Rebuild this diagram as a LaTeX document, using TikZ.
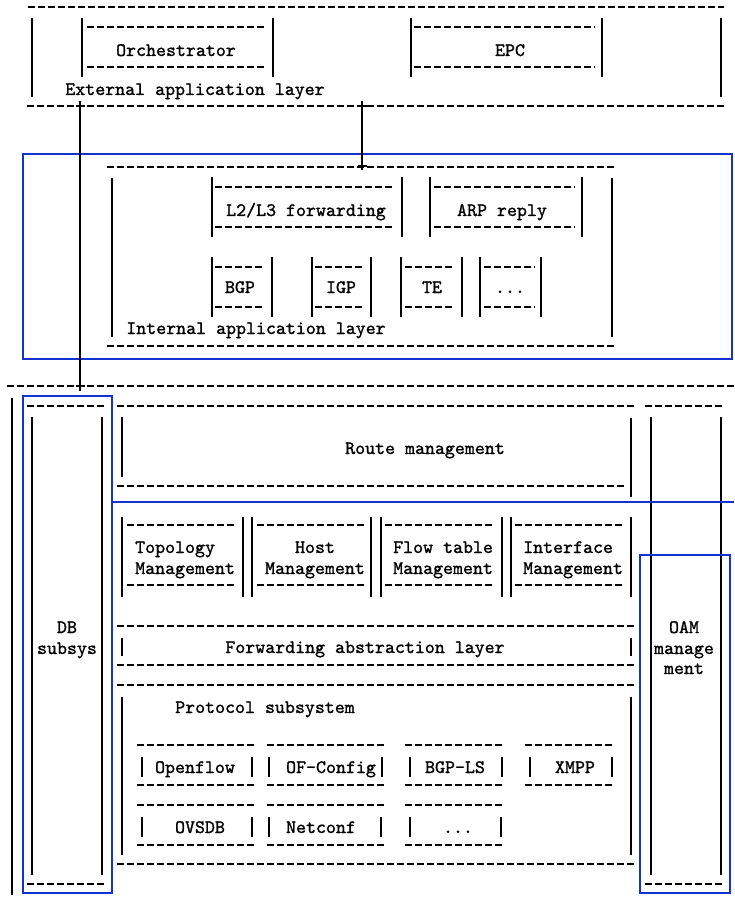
\documentclass[tikz,border=0pt]{standalone}
\usepackage{fontspec}
\newfontfamily\asc{lmmono10-regular}[Extension=.otf, FakeBold=1.2]
\definecolor{frameblue}{RGB}{20,50,210}
\begin{document}
\begin{tikzpicture}[x=1pt,y=-1pt,
  dl/.style={line width=1.3pt, dash pattern=on 7pt off 3pt},
  vl/.style={line width=1.6pt},
  bl/.style={draw=frameblue, line width=2.4pt},
  tx/.style={font=\asc\fontsize{19}{20.5}\selectfont, anchor=base, inner sep=0pt},
  txl/.style={tx, anchor=base west},
]
\useasboundingbox (0,0) rectangle (734,901);

% ---------------- external application layer ----------------
\draw[dl] (28,7) -- (724,7);
\draw[vl] (32,18) -- (32,97);
\draw[vl] (721,18) -- (721,97);
\draw[dl] (27,106) -- (724,106);
% Orchestrator
\draw[vl] (82,18) -- (82,77);  \draw[vl] (273,18) -- (273,77);
\draw[dl] (87,27) -- (265,27); \draw[dl] (87,67) -- (265,67);
\node[tx] (orch) at (176,56) {Orchestrator};
% EPC
\draw[vl] (411,18) -- (411,77); \draw[vl] (602,18) -- (602,77);
\draw[dl] (414,27) -- (595,27); \draw[dl] (414,67) -- (595,67);
\node[tx] (epc) at (510,56) {EPC};
\node[tx] (ext) at (195,95) {External application layer};

% junction points of the two links
\coordinate (pA) at (80,106);
\coordinate (pB) at (362,106);
\coordinate (pC) at (362,166);
\coordinate (pD) at (80,386);

% ---------------- internal application layer ----------------
\draw[bl] (23,154) rectangle (732,359);
\draw[dl] (107,167) -- (614,167);
\draw[vl] (112,178) -- (112,337);
\draw[vl] (612,178) -- (612,337);
\draw[dl] (107,346) -- (614,346);
% L2/L3 forwarding
\draw[vl] (212,177) -- (212,237); \draw[vl] (402,177) -- (402,237);
\draw[dl] (215,187) -- (395,187); \draw[dl] (215,227) -- (395,227);
\node[tx] (l2l3) at (306,216) {L2/L3 forwarding};
% ARP reply
\draw[vl] (430,177) -- (430,237); \draw[vl] (582,177) -- (582,237);
\draw[dl] (434,187) -- (575,187); \draw[dl] (434,227) -- (575,227);
\node[tx] (arp) at (502,216) {ARP reply};
% BGP
\draw[vl] (212,257) -- (212,317); \draw[vl] (272,257) -- (272,317);
\draw[dl] (215,267) -- (265,267); \draw[dl] (215,307) -- (265,307);
\node[tx] (bgp) at (240,293) {BGP};
% IGP
\draw[vl] (312,257) -- (312,317); \draw[vl] (371,257) -- (371,317);
\draw[dl] (315,267) -- (365,267); \draw[dl] (315,307) -- (365,307);
\node[tx] (igp) at (341,293) {IGP};
% TE
\draw[vl] (401,257) -- (401,317); \draw[vl] (462,257) -- (462,317);
\draw[dl] (405,267) -- (455,267); \draw[dl] (405,307) -- (455,307);
\node[tx] (te) at (432,293) {TE};
% more
\draw[vl] (480,257) -- (480,317); \draw[vl] (541,257) -- (541,317);
\draw[dl] (484,267) -- (535,267); \draw[dl] (484,307) -- (535,307);
\node[tx] (etc) at (510,293) {...};
\node[tx] (int) at (256,334) {Internal application layer};

% ---------------- controller core ----------------
\draw[dl] (7,386) -- (734,386);
\draw[vl] (12,398) -- (12,895);

% DB subsystem
\draw[bl] (23,396) rectangle (112,893);
\draw[dl] (27,406) -- (105,406); \draw[dl] (27,884) -- (105,884);
\draw[vl] (32,417) -- (32,875); \draw[vl] (102,417) -- (102,875);
\node[tx] (db1) at (67,633) {DB};
\node[tx] (db2) at (67,654) {subsys};

% Route management
\draw[dl] (117,406) -- (634,406);
\draw[vl] (122,417) -- (122,477);
\draw[vl] (631,418) -- (631,497);
\draw[dl] (117,486) -- (624,486);
\node[tx] (route) at (425,454) {Route management};

% OAM management
\draw[dl] (645,406) -- (724,406); \draw[dl] (645,884) -- (724,884);
\draw[vl] (651,417) -- (651,875); \draw[vl] (721,417) -- (721,875);
\node[tx] (oam1) at (684,633) {OAM};
\node[tx] (oam2) at (684,654) {manage};
\node[tx] (oam3) at (684,674) {ment};
\draw[bl] (640,555) rectangle (730,893);

% frame around the lower modules
\draw[bl] (112,502) -- (734,502);

% management modules
\draw[vl] (122,517) -- (122,597); \draw[vl] (243,517) -- (243,597);
\draw[dl] (127,525) -- (235,525); \draw[dl] (127,585) -- (235,585);
\node[txl] (topo1) at (135,553) {Topology};
\node[txl] (topo2) at (135,574) {Management};
\draw[vl] (252,517) -- (252,597); \draw[vl] (371,517) -- (371,597);
\draw[dl] (257,525) -- (365,525); \draw[dl] (257,585) -- (365,585);
\node[tx] (host1) at (315,553) {Host};
\node[tx] (host2) at (315,574) {Management};
\draw[vl] (381,517) -- (381,597); \draw[vl] (502,517) -- (502,597);
\draw[dl] (385,525) -- (495,525); \draw[dl] (385,585) -- (495,585);
\node[txl] (flow1) at (393,553) {Flow table};
\node[txl] (flow2) at (393,574) {Management};
\draw[vl] (511,517) -- (511,597); \draw[vl] (631,517) -- (631,597);
\draw[dl] (515,525) -- (624,525); \draw[dl] (515,585) -- (624,585);
\node[txl] (intf1) at (523,553) {Interface};
\node[txl] (intf2) at (523,574) {Management};

% forwarding abstraction layer
\draw[dl] (117,626) -- (634,626);
\draw[vl] (122,638) -- (122,656); \draw[vl] (631,638) -- (631,656);
\draw[dl] (117,665) -- (634,665);
\node[tx] (fal) at (365,653) {Forwarding abstraction layer};

% protocol subsystem
\draw[dl] (117,685) -- (634,685);
\draw[vl] (122,697) -- (122,855); \draw[vl] (631,697) -- (631,855);
\draw[dl] (117,864) -- (634,864);
\node[tx] (proto) at (265,713) {Protocol subsystem};

% protocol modules, first row
\draw[dl] (137,745) -- (255,745); \draw[dl] (137,785) -- (255,785);
\draw[vl] (142,757) -- (142,777); \draw[vl] (252,757) -- (252,777);
\node[tx] (of) at (195,773) {Openflow};
\draw[dl] (267,745) -- (384,745); \draw[dl] (267,785) -- (384,785);
\draw[vl] (269,757) -- (269,777); \draw[vl] (382,757) -- (382,777);
\node[tx] (ofc) at (331,773) {OF-Config};
\draw[dl] (405,745) -- (504,745); \draw[dl] (405,785) -- (504,785);
\draw[vl] (410,757) -- (410,777); \draw[vl] (502,757) -- (502,777);
\node[tx] (bgpls) at (455,773) {BGP-LS};
\draw[dl] (525,745) -- (614,745); \draw[dl] (525,785) -- (614,785);
\draw[vl] (530,757) -- (530,777); \draw[vl] (612,757) -- (612,777);
\node[tx] (xmpp) at (575,773) {XMPP};

% protocol modules, second row
\draw[dl] (137,805) -- (255,805); \draw[dl] (137,845) -- (255,845);
\draw[vl] (142,817) -- (142,837); \draw[vl] (252,817) -- (252,837);
\node[tx] (ovsdb) at (200,833) {OVSDB};
\draw[dl] (267,805) -- (384,805); \draw[dl] (267,845) -- (384,845);
\draw[vl] (269,817) -- (269,837); \draw[vl] (381,817) -- (381,837);
\node[tx] (netconf) at (321,833) {Netconf};
\draw[dl] (405,805) -- (504,805); \draw[dl] (405,845) -- (504,845);
\draw[vl] (410,817) -- (410,837); \draw[vl] (501,817) -- (501,837);
\node[tx] (petc) at (458,833) {...};

% links between the layers, with their junction crosses
\draw[vl] ([yshift=4.5pt]pA) -- ([yshift=-4.5pt]pD);
\draw[vl] ([yshift=4.5pt]pB) -- ([yshift=-4.5pt]pC);
\foreach \p in {pA,pB,pC,pD}
  \draw[vl] ([xshift=-4.5pt]\p) -- ([xshift=4.5pt]\p);
\end{tikzpicture}
\end{document}
